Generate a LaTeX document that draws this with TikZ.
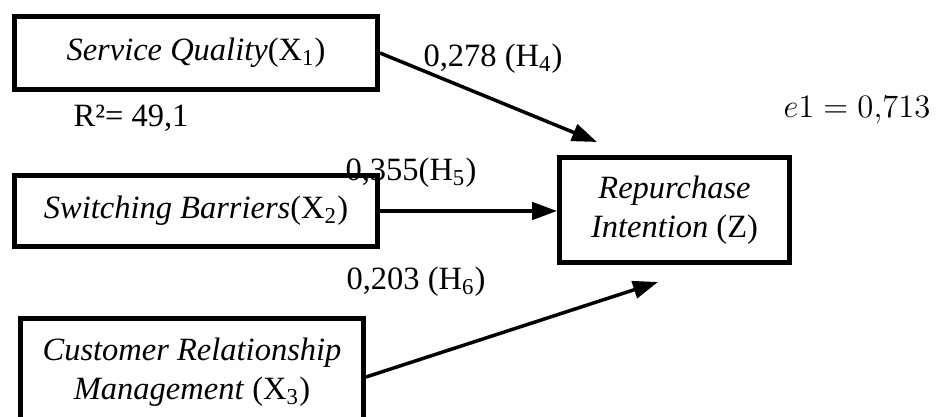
\documentclass[tikz,border=0pt]{standalone}
\usepackage{graphicx}
\usepackage{fontspec}
\setmainfont{Liberation Serif}
\usetikzlibrary{arrows.meta, positioning}

\begin{document}
\begin{tikzpicture}[
    x=0.4pt, y=-0.4pt,
    var/.style={draw=black, line width=2pt, font=\itshape\fontsize{13}{15.6}\selectfont, align=center, inner sep=0pt, anchor=center},
    effect/.style={line width=1.4pt, -{Triangle[length=10pt, width=7pt]}},
    coef/.style={font=\fontsize{13}{15.6}\selectfont, inner sep=0pt, anchor=center}
]
\useasboundingbox (0,0) rectangle (938,417);
\clip (0,0) rectangle (938,417);

% variables
\node[var, minimum width=145.2pt, minimum height=29.2pt] (sq) at (196,53) {Service Quality\textup{(X\textsubscript{1})}};
\node[var, minimum width=145.2pt, minimum height=28.2pt] (sb) at (196,211) {Switching Barriers\textup{(X\textsubscript{2})}};
\node[var, minimum width=137.2pt, minimum height=42.4pt] (crm) at (192,372) {Customer Relationship\\ Management \textup{(X\textsubscript{3})}};
\node[var, minimum width=92pt, minimum height=42pt] (z) at (674.5,210) {Repurchase\\ Intention \textup{(Z)}};

% free arrow ends
\coordinate (h4end) at (597,142);
\coordinate (h6end) at (658,282);

% paths
\draw[effect] (sq.east) -- (h4end);
\draw[effect] (sb.east) -- (sb.east -| z.west);
\draw[effect] ([yshift=-2pt]crm.east) -- (h6end);

% coefficients
\node[coef] (h4) at (493,59) {0,278 (H\textsubscript{4})};
\node[coef] (h5) at (411,173) {0,355(H\textsubscript{5})};
\node[coef] (h6) at (416,282) {0,203 (H\textsubscript{6})};
\node[coef] (rsq) at (131,118) {R²= 49,1};
\node[coef] (err) at (857,110) {\scalebox{1.09}{$e1 = 0{,}713$}};
\end{tikzpicture}
\end{document}
